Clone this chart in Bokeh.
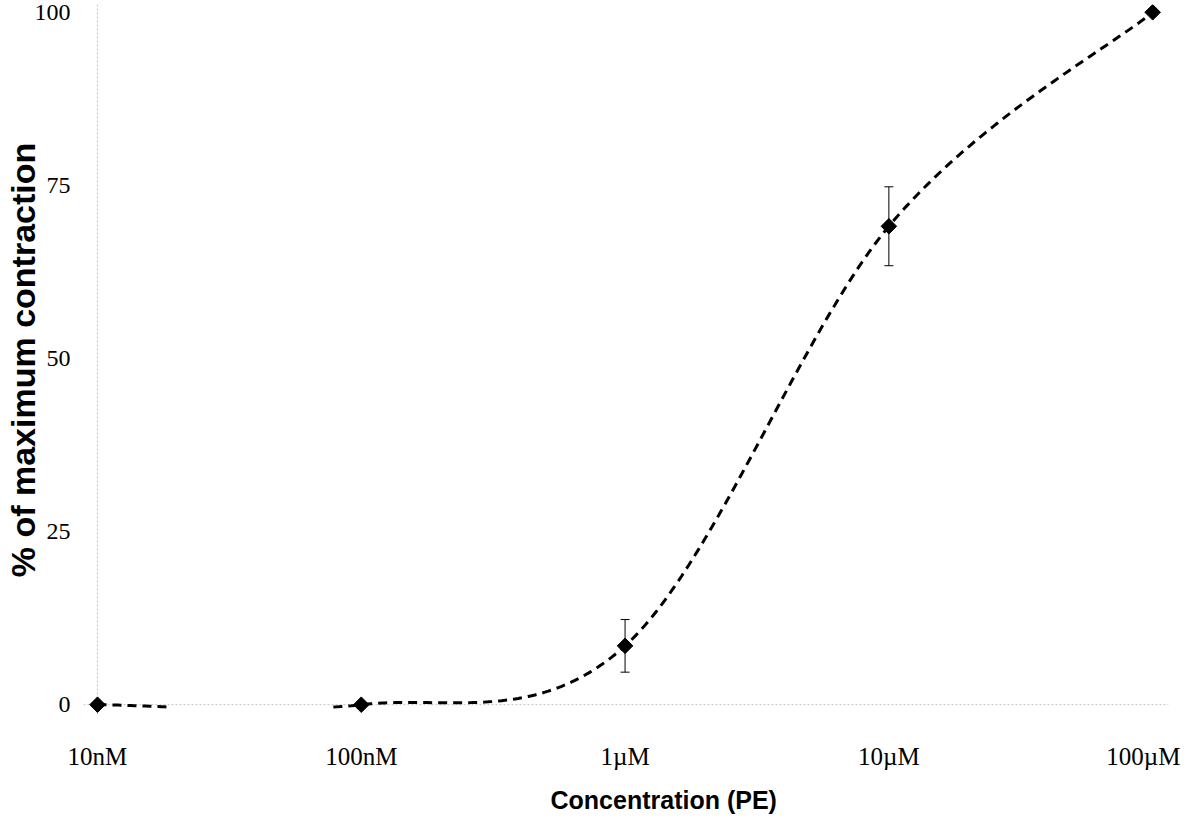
import numpy as np
from bokeh.plotting import figure
from bokeh.models import ColumnDataSource, Whisker, Span, FixedTicker, TeeHead, Title
from bokeh.embed import file_html
from bokeh.resources import INLINE

# ---- data ----
conc_labels = ["10nM", "100nM", "1\u00b5M", "10\u00b5M", "100\u00b5M"]
log_conc = [-8, -7, -6, -5, -4]
response = [0.0, 0.0, 8.5, 69.1, 100.0]
sem = [0.0, 0.0, 3.8, 5.7, 0.0]
y_ticks = [0, 25, 50, 75, 100]
x_title = "Concentration (PE)"
y_title = "% of maximum contraction"


def smooth_curve(xs, ys, n=80):
    """Excel-like smoothed line: Catmull-Rom converted to cubic Bezier."""
    P = np.array(list(zip(xs, ys)), dtype=float)
    P = np.vstack([P[0], P, P[-1]])
    out_x, out_y = [], []
    t = np.linspace(0, 1, n)
    for i in range(1, len(P) - 2):
        p0, p1, p2, p3 = P[i - 1], P[i], P[i + 1], P[i + 2]
        c1 = p1 + (p2 - p0) / 6.0
        c2 = p2 - (p3 - p1) / 6.0
        b = ((1 - t) ** 3)[:, None] * p1 + (3 * (1 - t) ** 2 * t)[:, None] * c1 \
            + (3 * (1 - t) * t ** 2)[:, None] * c2 + (t ** 3)[:, None] * p2
        out_x.extend(b[:, 0]); out_y.extend(b[:, 1])
    return np.array(out_x), np.array(out_y)


cx, cy = smooth_curve(log_conc, response)
# the original chart clips the curve where it drops below the x axis
cy = np.where(cy < -0.35, np.nan, cy)

p = figure(width=1180, height=824, output_backend="svg", toolbar_location=None,
           x_range=(-8.053, -3.94), y_range=(-1.56, 101.13),
           min_border_top=4, min_border_bottom=95, min_border_right=12,
           min_border_left=72)
p.outline_line_color = None
p.xgrid.visible = False
p.ygrid.visible = False
p.background_fill_color = "white"

# faint dotted axis lines
p.add_layout(Span(location=0, dimension="width", line_color="#c4c4c4",
                  line_dash="2 2", line_width=1, level="underlay"))
p.add_layout(Span(location=-8, dimension="height", line_color="#c4c4c4",
                  line_dash="2 2", line_width=1, level="underlay"))

p.line(cx, cy, line_color="black", line_width=3, line_dash="9 6")

err_src = ColumnDataSource(data=dict(
    x=[x for x, e in zip(log_conc, sem) if e > 0],
    upper=[r + e for r, e in zip(response, sem) if e > 0],
    lower=[r - e for r, e in zip(response, sem) if e > 0]))
p.add_layout(Whisker(base="x", upper="upper", lower="lower", source=err_src,
                     line_color="black", line_width=1,
                     upper_head=TeeHead(size=9, line_color="black", line_width=1),
                     lower_head=TeeHead(size=9, line_color="black", line_width=1)))

p.scatter(log_conc, response, marker="square", size=11, angle=0.785398,
          fill_color="black", line_color="black")

# axes
p.xaxis.ticker = FixedTicker(ticks=log_conc)
p.xaxis.major_label_overrides = {x: l for x, l in zip(log_conc, conc_labels)}
p.yaxis.ticker = FixedTicker(ticks=y_ticks)
for ax in (p.xaxis, p.yaxis):
    ax.axis_line_color = None
    ax.major_tick_line_color = None
    ax.minor_tick_line_color = None
    ax.major_label_text_font = "Liberation Serif"
    ax.major_label_text_font_size = "24px"
    ax.major_label_text_color = "black"
    ax.axis_label_text_font = "Liberation Sans"
    ax.axis_label_text_font_style = "bold"
    ax.axis_label_text_color = "black"

p.xaxis.major_label_text_font_size = "25px"
p.xaxis.major_label_standoff = 21

p.add_layout(Title(text=x_title, align="left", offset=467,
                   text_font="Liberation Sans", text_font_style="bold",
                   text_font_size="25px", text_color="black", standoff=22),
             "below")

p.yaxis.major_label_standoff = 7
p.yaxis.axis_label = y_title
p.yaxis.axis_label_text_font_size = "34px"
p.yaxis.axis_label_standoff = -10

open("out.html", "w").write(file_html(p, INLINE))
